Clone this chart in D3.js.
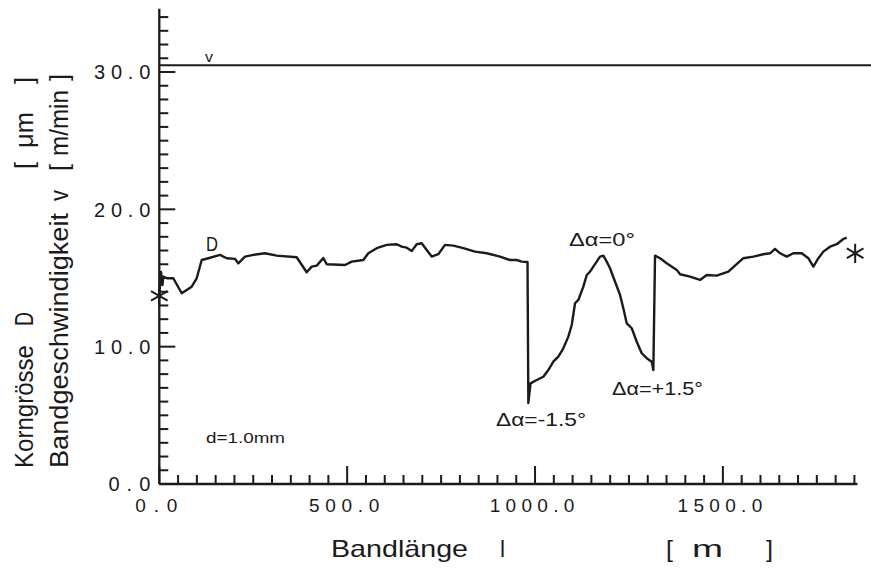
<!DOCTYPE html>
<html><head><meta charset="utf-8">
<script src="https://cdn.jsdelivr.net/npm/d3@7"></script>
<style>
body{margin:0;background:#fff}
svg{display:block}
text{font-family:"Liberation Sans",Arial,sans-serif;fill:#1b1b1b}
</style>
</head><body><svg id="c" width="871" height="575"></svg>
<script>
// ---- data ----
const distance = [0,4.5,8.5,10.6,19.7,37.3,59.6,86.2,99.5,112.9,
 130.4,161.6,179.4,201.5,210.3,228.1,250.2,281.3,312.5,365.7,
 392.3,405.6,419.0,436.5,445.6,494.3,512.1,543.0,556.3,578.7,
 605.3,631.9,645.2,658.5,671.8,685.1,698.4,711.7,725.0,742.6,
 760.4,782.5,809.2,840.3,871.4,906.8,933.5,951.3,964.6,980.0,
 982.2,988.0,1004.5,1022.1,1035.4,1048.7,1062.0,1075.3,1088.6,1097.7,
 1106.5,1115.3,1128.6,1137.6,1146.4,1155.2,1164.2,1173.0,1181.8,1190.8,
 1199.6,1213.0,1226.2,1235.0,1244.1,1257.4,1270.7,1284.0,1297.3,1310.6,
 1314.9,1319.4,1332.7,1350.5,1377.2,1386.0,1412.6,1439.2,1457.0,1483.6,
 1514.5,1532.3,1554.4,1581.0,1607.7,1625.5,1638.8,1652.1,1669.9,1687.5,
 1709.9,1727.4,1740.8,1754.1,1767.4,1785.2,1803.0,1820.6,1829.6];
const grainSize = [13.77,15.44,14.49,15.10,14.98,14.98,13.89,14.37,14.98,16.31,
 16.44,16.68,16.44,16.39,16.07,16.56,16.68,16.80,16.63,16.51,
 15.42,15.83,15.90,16.46,16.00,15.95,16.19,16.31,16.80,17.17,
 17.41,17.46,17.28,17.21,16.97,17.46,17.53,17.04,16.56,16.73,
 17.41,17.36,17.17,16.92,16.80,16.56,16.31,16.31,16.19,16.17,
 5.90,7.33,7.57,7.81,8.30,8.91,9.27,9.88,10.73,11.58,
 13.16,13.40,14.37,15.22,15.46,15.83,16.19,16.56,16.63,16.19,
 15.71,14.73,13.77,12.80,11.70,11.34,10.36,9.52,9.16,8.91,
 8.30,16.63,16.44,16.07,15.59,15.27,15.10,14.86,15.22,15.17,
 15.46,15.90,16.44,16.56,16.73,16.80,17.12,16.80,16.56,16.80,
 16.80,16.44,15.83,16.44,16.92,17.28,17.46,17.84,17.94];
const speed = 30.5;                        // Bandgeschwindigkeit v [m/min]
const markerDistance = [0, 1852];
const markerValue = [13.7, 16.8];
const xMajorTicks = [0, 500, 1000, 1500];
const xTickLabels = ["0.0", "500.0", "1000.0", "1500.0"];
const yMajorTicks = [0, 10, 20, 30];
const yTickLabels = ["0.0", "10.0", "20.0", "30.0"];
const annotationText = ["Δα=-1.5°", "Δα=0°", "Δα=+1.5°", "d=1.0mm", "D", "v"];

// ---- scales ----
const svg = d3.select("#c");
const x = d3.scaleLinear().domain([0, 1850]).range([159.3, 854.4]);
const y = d3.scaleLinear().domain([0, 30]).range([484, 72]);
const ink = "#1b1b1b";

// ---- ticks (inward) ----
const yAll = d3.range(0, 35, 1);
const xAll = d3.range(0, 1851, 50);
svg.append("g").selectAll("rect").data(yAll).join("rect")
  .attr("x", x(0)).attr("y", d => y(d) - 1)
  .attr("width", d => yMajorTicks.includes(d) ? 16 : 9).attr("height", 2)
  .attr("fill", ink);
svg.append("g").selectAll("rect").data(xAll).join("rect")
  .attr("x", d => x(d) - 1).attr("y", d => y(0) - (xMajorTicks.includes(d) ? 18 : 9))
  .attr("width", 2).attr("height", d => xMajorTicks.includes(d) ? 18 : 9)
  .attr("fill", ink);

// axis lines
svg.append("line").attr("x1", x(0)).attr("x2", x(0))
  .attr("y1", y(0)).attr("y2", y(34.6)).attr("stroke", ink).attr("stroke-width", 2.3);
svg.append("line").attr("x1", x(0)).attr("x2", x(1858))
  .attr("y1", y(0)).attr("y2", y(0)).attr("stroke", ink).attr("stroke-width", 2.3);

// tick labels
svg.append("g").selectAll("text").data(yMajorTicks).join("text")
  .attr("x", x(0) - 9).attr("y", d => y(d)).attr("dy", "0.36em")
  .attr("text-anchor", "end").attr("font-size", 20)
  .attr("textLength", (d,i) => yTickLabels[i].length * 14.3 - 1)
  .attr("lengthAdjust", "spacing")
  .text((d,i) => yTickLabels[i]);
svg.append("g").selectAll("text").data(xMajorTicks).join("text")
  .attr("x", d => x(d) - 3).attr("y", y(0) + 28)
  .attr("text-anchor", "middle").attr("font-size", 19)
  .attr("textLength", (d,i) => xTickLabels[i].length * 14.3 - 1)
  .attr("lengthAdjust", "spacing")
  .text((d,i) => xTickLabels[i]);

// ---- speed line ----
svg.append("line").attr("x1", x(0)).attr("x2", 871)
  .attr("y1", y(speed)).attr("y2", y(speed)).attr("stroke", ink).attr("stroke-width", 2);

// ---- grain size curve ----
const pts = d3.zip(distance, grainSize);
svg.append("path").datum(pts)
  .attr("d", d3.line().x(d => x(d[0])).y(d => y(d[1])))
  .attr("fill", "none").attr("stroke", ink).attr("stroke-width", 2.4)
  .attr("stroke-linejoin", "round");

// ---- markers ----
const star = d3.symbol().type(d3.symbolAsterisk).size(260);
svg.selectAll(".mk").data(d3.zip(markerDistance, markerValue)).join("path")
  .attr("transform", d => `translate(${x(d[0])},${y(d[1])})`)
  .attr("d", star).attr("fill", "none").attr("stroke", ink).attr("stroke-width", 2);

// ---- annotations ----
function label(t, px, py, size, len) {
  const el = svg.append("text").attr("x", px).attr("y", py).attr("font-size", size).text(t);
  if (len) el.attr("textLength", len).attr("lengthAdjust", "spacingAndGlyphs");
  return el;
}
label(annotationText[0], 496, 426, 18, 90);
label(annotationText[1], 569, 246, 18, 66);
label(annotationText[2], 612, 395, 18, 91);
label(annotationText[3], 206, 443, 15, 79);
label(annotationText[4], 206, 251, 20, 12);
label(annotationText[5], 205, 62, 14, 8);

// ---- axis titles ----
function vlabel(t, px, py, size, len) {
  const el = svg.append("text").attr("transform", `translate(${px},${py}) rotate(-90)`)
    .attr("font-size", size).text(t);
  if (len) el.attr("textLength", len).attr("lengthAdjust", "spacingAndGlyphs");
  return el;
}
vlabel("Korngrösse", 33, 468, 25, 123);
vlabel("D", 33, 326, 25, 14);
vlabel("[", 33, 169, 25, 7);
vlabel("μm", 33, 148, 25, 36);
vlabel("]", 33, 84, 25, 7);
vlabel("Bandgeschwindigkeit", 68, 468, 25, 255);
vlabel("v", 68, 201, 25, 11);
vlabel("[", 68, 171, 25, 7);
vlabel("m/min", 68, 156, 25, 66);
vlabel("]", 68, 81, 25, 7);

label("Bandlänge", 331, 557, 24, 137);
label("l", 500, 557, 24, 5);
label("[", 666, 557, 24, 7);
label("m", 692, 557, 24, 31);
label("]", 766, 557, 24, 7);
</script>
</body></html>
